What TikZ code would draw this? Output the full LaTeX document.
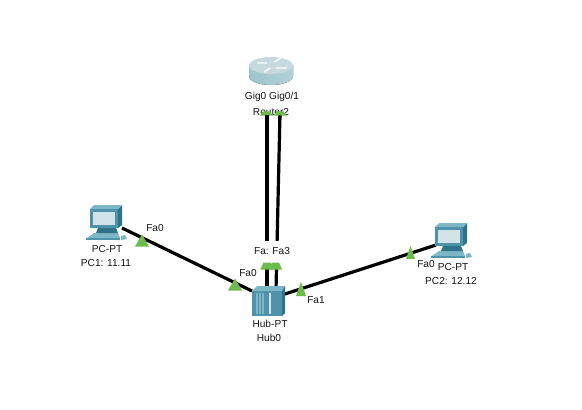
\documentclass[tikz,border=0pt]{standalone}
\usepackage{fontspec}
\setmainfont{Liberation Sans}
\definecolor{tealA}{HTML}{4E93AB}
\definecolor{tealB}{HTML}{2F7389}
\definecolor{tealC}{HTML}{7FB6C6}
\definecolor{screenC}{HTML}{D3E3EA}
\definecolor{portG}{HTML}{6CBB4B}
\definecolor{rtop}{HTML}{C6D9DF}
\definecolor{rside}{HTML}{9FC4CD}
\tikzset{
 lbl/.style={font=\fontsize{7.6pt}{9pt}\selectfont,inner sep=0pt,text=black!92},
 wire/.style={line width=2.4pt,black},
 port/.pic={\fill[portG] (-7,6) -- (0,-6) -- (7,6) -- cycle;},
 flatport/.pic={\fill[portG] (-6.5,3.5) -- (-3.5,-3.5) -- (3.5,-3.5) -- (6.5,3.5) -- cycle;},
 pcicon/.pic={
   % base
   \fill[tealC] (-19,16) -- (-12,11) -- (12,11) -- (14,16) -- cycle;
   \fill[tealA] (-20,16) rectangle (14,18);
   \fill[tealC] (15,14) -- (19,13) -- (21,17) -- (15,18) -- cycle;
   % stand
   \fill[tealB] (-8,6) -- (10,6) -- (12,11) -- (-10,11) -- cycle;
   % monitor
   \fill[tealB] (12,-13) -- (16,-17) -- (16,3) -- (12,6) -- cycle;
   \fill[tealC] (-16,-13) -- (-12,-17) -- (16,-17) -- (12,-13) -- cycle;
   \fill[tealA] (-16,-13) rectangle (12,6);
   \fill[screenC] (-13,-10) rectangle (9,3);
 }
}
\begin{document}
\begin{tikzpicture}[x=0.75pt,y=-0.75pt]
\useasboundingbox[fill=white] (0,0) rectangle (582,410);
% connection points
\coordinate (pcOne) at (122,228);
\coordinate (pcTwo) at (436,245);
\coordinate (hubW) at (252,291);
\coordinate (hubE) at (285,294);
\coordinate (hubA) at (267,290);
\coordinate (hubB) at (276,290);
\coordinate (rtA) at (267,113);
\coordinate (rtB) at (280,113);
% wires
\draw[wire] (pcOne) -- (hubW);
\draw[wire] (hubE) -- (pcTwo);
\draw[wire] (rtA) -- (hubA);
\draw[wire] (rtB) -- (hubB);
% router
\fill[left color=rside,right color=rside!80!white] (249,65) -- (249,76) arc[start angle=180,end angle=0,x radius=22,y radius=9] -- (293,65) -- cycle;
\fill[rtop] (271,65.5) ellipse[x radius=22,y radius=8.5];
\draw[white,line width=1.1pt] (257,63) -- (267,63) (276,68) -- (287,68) (264,72) -- (270,68) (274,62) -- (281,58);
% hub
\fill[tealC] (252,291) -- (257,286) -- (285,286) -- (282,291) -- cycle;
\fill[tealB] (282,291) -- (285,286) -- (285,313) -- (282,316) -- cycle;
\fill[tealA] (252,291) rectangle (282,316);
\foreach \xx/\cc in {257/tealC,260/tealC,263/tealC,270/screenC}
  \draw[\cc,line width=0.8pt] (\xx,293) -- (\xx,314);
% PCs
\pic at (106,222) {pcicon};
\pic at (451,240) {pcicon};
% ports
\pic at (142,240.5) {port};
\pic at (235,284.5) {port};
\pic[xscale=0.72,yscale=1.17] at (301,289) {port};
\pic[xscale=0.65,yscale=1.08] at (410.5,252.5) {port};
% labels
\node[lbl,fill=white,minimum width=38pt,minimum height=16.5pt] (lfa) at (272,251.5) {Fa: Fa3};
\pic at (267,266) {flatport};
\pic at (275.5,266) {flatport};
\node[lbl] (lr) at (271,112) {Router2};
\pic[yscale=0.6] at (266.5,113.5) {flatport};
\pic[yscale=0.6] at (280,113.5) {flatport};
\draw[wire] (267,115.5) -- (267,120);
\draw[wire] (279.9,115.5) -- (279.7,120);
\node[lbl] (lg) at (272,97) {Gig0 Gig0/1};
\node[lbl] (lhw) at (248,273) {Fa0};
\node[lbl] (lhe) at (316,300) {Fa1};
\node[lbl] (lpa) at (155,228) {Fa0};
\node[lbl] (lpb) at (426,264) {Fa0};
\node[lbl] (lh1) at (270,324) {Hub-PT};
\node[lbl] (lh2) at (269,338) {Hub0};
\node[lbl] (lp1) at (107,249) {PC-PT};
\node[lbl] (lp2) at (106,263) {PC1: 11.11};
\node[lbl] (lp3) at (453,267) {PC-PT};
\node[lbl] (lp4) at (451,281) {PC2: 12.12};
\end{tikzpicture}
\end{document}
